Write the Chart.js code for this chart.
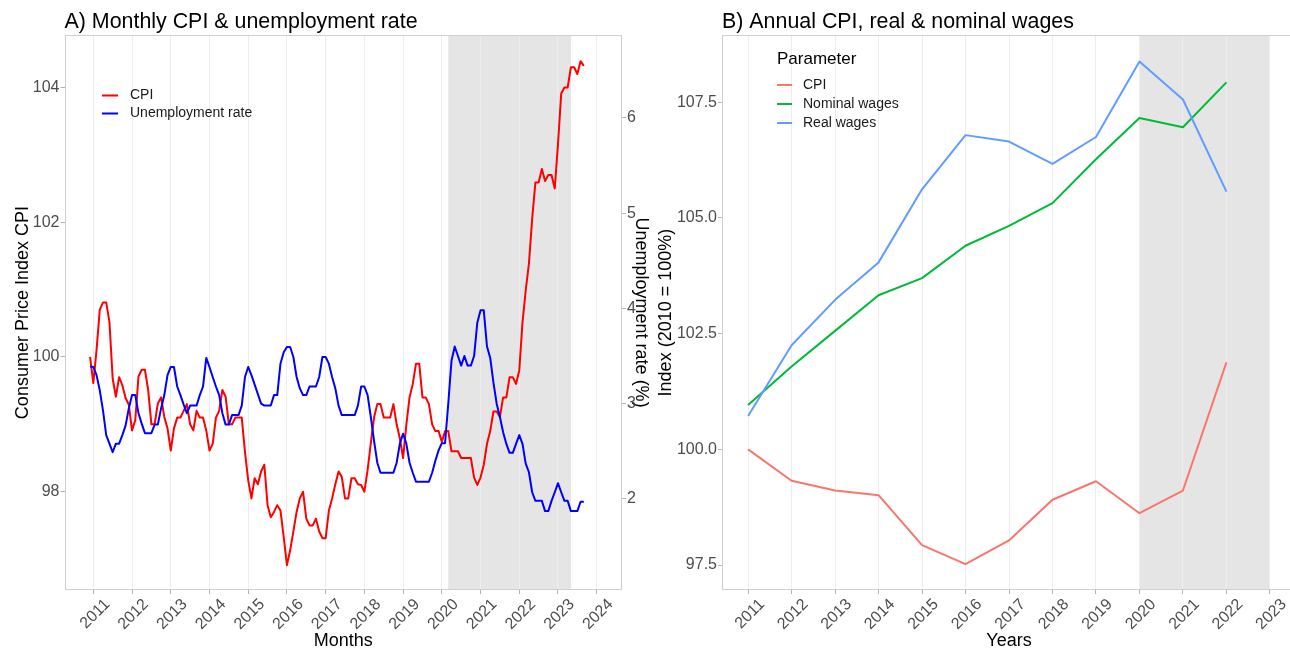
<!DOCTYPE html>
<html>
<head>
<meta charset="utf-8">
<script src="https://cdn.jsdelivr.net/npm/chart.js@4.4.1/dist/chart.umd.min.js"></script>
<style>
html,body{margin:0;padding:0;background:#ffffff;overflow:hidden;width:1290px;height:651px;}
#wrap{position:relative;width:1290px;height:651px;overflow:hidden;background:#ffffff;}
canvas{position:absolute;top:0;}
#chartA{left:0;}
#chartB{left:650px;}
</style>
</head>
<body>
<div id="wrap">
<canvas id="chartA" width="660" height="651"></canvas>
<canvas id="chartB" width="646" height="651"></canvas>
</div>
<script>
// ---------------- DATA ----------------
// Panel A: monthly series, first month = Dec 2010, last = Sep 2023
const monthlyStart = '2010-12';
const cpiMonthly = [
  100.0,
  99.61, 100.1, 100.70, 100.81, 100.81, 100.52, 99.68, 99.41, 99.70, 99.58, 99.39, 99.29,
  98.91, 99.06, 99.71, 99.81, 99.81, 99.51, 99.0, 99.0, 99.31, 99.40, 99.11, 98.94,
  98.61, 98.94, 99.10, 99.10, 99.20, 99.30, 99.0, 98.91, 99.20, 99.10, 99.10, 98.91,
  98.61, 98.71, 99.10, 99.20, 99.51, 99.41, 99.0, 99.0, 99.10, 99.10, 99.10, 98.59,
  98.17, 97.90, 98.20, 98.11, 98.30, 98.40, 97.80, 97.62, 97.70, 97.80, 97.72, 97.33,
  96.91, 97.13, 97.41, 97.70, 97.90, 98.0, 97.60, 97.50, 97.50, 97.60, 97.41, 97.31,
  97.31, 97.72, 97.90, 98.11, 98.30, 98.22, 97.90, 97.90, 98.20, 98.20, 98.11, 98.10,
  98.0, 98.32, 98.72, 99.10, 99.30, 99.30, 99.10, 99.10, 99.10, 99.30, 99.0, 98.79,
  98.50, 98.99, 99.40, 99.60, 99.90, 99.90, 99.40, 99.40, 99.30, 99.0, 98.90, 98.90,
  98.74, 98.90, 98.90, 98.60, 98.60, 98.60, 98.50, 98.50, 98.50, 98.50, 98.21, 98.10,
  98.21, 98.40, 98.71, 98.90, 99.19, 99.19, 99.11, 99.40, 99.40, 99.70, 99.70, 99.60,
  99.80, 100.51, 100.99, 101.39, 102.05, 102.59, 102.59, 102.79, 102.61, 102.70, 102.70, 102.50,
  103.16, 103.91, 104.0, 104.0, 104.3, 104.3, 104.2, 104.39, 104.32
];
const unemploymentMonthly = [
  3.39,
  3.385, 3.30, 3.14, 2.93, 2.67, 2.58, 2.49, 2.58, 2.58, 2.67, 2.77, 2.95,
  3.09, 3.09, 2.90, 2.79, 2.69, 2.69, 2.69, 2.78, 2.78, 2.95, 3.09, 3.30,
  3.385, 3.385, 3.18, 3.09, 2.99, 2.90, 2.98, 2.98, 2.98, 3.09, 3.18, 3.48,
  3.385, 3.28, 3.18, 3.09, 2.90, 2.78, 2.78, 2.88, 2.88, 2.88, 2.98, 3.28,
  3.385, 3.30, 3.20, 3.10, 3.00, 2.98, 2.98, 2.98, 3.09, 3.09, 3.42, 3.54,
  3.595, 3.595, 3.49, 3.28, 3.16, 3.09, 3.09, 3.18, 3.18, 3.18, 3.28, 3.49,
  3.49, 3.42, 3.28, 3.16, 2.98, 2.88, 2.88, 2.88, 2.88, 2.88, 2.98, 3.18,
  3.18, 3.09, 2.86, 2.61, 2.38, 2.275, 2.275, 2.275, 2.275, 2.275, 2.38, 2.58,
  2.685, 2.58, 2.38, 2.275, 2.18, 2.18, 2.18, 2.18, 2.18, 2.275, 2.40, 2.51,
  2.585, 2.585, 3.00, 3.45, 3.60, 3.50, 3.40, 3.50, 3.40, 3.40, 3.50, 3.85,
  3.98, 3.98, 3.60, 3.48, 3.22, 3.00, 2.86, 2.70, 2.577, 2.484, 2.484, 2.577,
  2.67, 2.577, 2.37, 2.28, 2.07, 1.98, 1.98, 1.98, 1.872, 1.872, 1.98, 2.07,
  2.165, 2.07, 1.98, 1.98, 1.872, 1.872, 1.872, 1.97, 1.97
];
const monthlyTickYears = [2011, 2012, 2013, 2014, 2015, 2016, 2017, 2018, 2019, 2020, 2021, 2022, 2023, 2024];
const cpiTicks = [98, 100, 102, 104];
const unemploymentTicks = [2, 3, 4, 5, 6];
const shadeMonthly = ['2020-03', '2023-05'];

// Panel B: annual series
const years = [2011, 2012, 2013, 2014, 2015, 2016, 2017, 2018, 2019, 2020, 2021, 2022];
const cpiAnnual = [100.0, 99.32, 99.11, 99.01, 97.93, 97.52, 98.03, 98.91, 99.31, 98.62, 99.11, 101.88];
const nominalWages = [100.96, 101.79, 102.56, 103.33, 103.70, 104.40, 104.83, 105.32, 106.27, 107.16, 106.96, 107.93];
const realWages = [100.72, 102.25, 103.23, 104.04, 105.62, 106.79, 106.65, 106.17, 106.75, 108.38, 107.56, 105.57];
const annualTickYears = [2011, 2012, 2013, 2014, 2015, 2016, 2017, 2018, 2019, 2020, 2021, 2022, 2023];
const indexTicks = [97.5, 100, 102.5, 105, 107.5];
const shadeAnnual = [2020, 2023];

// ---------------- HELPERS ----------------
const FONT = "'Liberation Sans', Arial, Helvetica, sans-serif";
Chart.defaults.font.family = FONT;
Chart.defaults.color = '#4d4d4d';

function monthToYear(s) {
  const p = s.split('-').map(Number);
  return p[0] + (p[1] - 1) / 12;
}
function monthLabels(start, n) {
  const p = start.split('-').map(Number);
  const out = [];
  for (let i = 0; i < n; i++) {
    const idx = p[1] - 1 + i;
    const y = p[0] + Math.floor(idx / 12);
    const m = (idx % 12) + 1;
    out.push(y + '-' + String(m).padStart(2, '0'));
  }
  return out;
}
const months = monthLabels(monthlyStart, cpiMonthly.length);

const shadePlugin = {
  id: 'shade',
  beforeDraw(chart, args, o) {
    if (!o || !o.range) return;
    const a = chart.chartArea, x = chart.scales.x, ctx = chart.ctx;
    const x0 = x.getPixelForValue(o.range[0]);
    const x1 = x.getPixelForValue(o.range[1]);
    ctx.save();
    ctx.fillStyle = o.color;
    ctx.fillRect(x0, a.top, x1 - x0, a.bottom - a.top);
    ctx.restore();
  }
};
const borderPlugin = {
  id: 'panelBorder',
  beforeDatasetsDraw(chart, args, o) {
    const a = chart.chartArea, ctx = chart.ctx;
    ctx.save();
    ctx.strokeStyle = o.color || '#cccccc';
    ctx.lineWidth = 1;
    const l = Math.round(a.left) + 0.5, t = Math.round(a.top) + 0.5;
    const r = Math.round(a.right) - 0.5, b = Math.round(a.bottom) - 0.5;
    ctx.strokeRect(l, t, r - l, b - t);
    ctx.restore();
  }
};
const legendPlugin = {
  id: 'panelLegend',
  afterDraw(chart, args, o) {
    if (!o || !o.order) return;
    const ctx = chart.ctx;
    ctx.save();
    ctx.textBaseline = 'middle';
    ctx.textAlign = 'left';
    if (o.title) {
      ctx.font = o.titleSize + 'px ' + FONT;
      ctx.fillStyle = '#000000';
      ctx.fillText(o.title, o.x, o.titleY);
    }
    ctx.font = o.size + 'px ' + FONT;
    o.order.forEach((di, k) => {
      const ds = chart.data.datasets[di];
      const y = o.y + k * o.rowGap;
      ctx.strokeStyle = ds.borderColor;
      ctx.lineWidth = ds.borderWidth;
      ctx.beginPath();
      ctx.moveTo(o.x, y);
      ctx.lineTo(o.x + o.keyLen, y);
      ctx.stroke();
      ctx.fillStyle = '#1a1a1a';
      ctx.fillText(ds.label, o.textX, y);
    });
    ctx.restore();
  }
};

const tickFont = { size: 16 };
const axisTitleFont = { size: 18 };
const gridX = { color: '#ededed', lineWidth: 1, tickColor: '#b3b3b3', tickLength: 4, drawOnChartArea: true };
const gridY = { drawOnChartArea: false, tickColor: '#b3b3b3', tickLength: 4 };

function xAxis(minV, maxV, tickVals, titleText) {
  return {
    type: 'linear', min: minV, max: maxV,
    afterBuildTicks: s => { s.ticks = tickVals.map(v => ({ value: v })); },
    afterFit: s => { s.height = 61; },
    ticks: { autoSkip: false, minRotation: 45, maxRotation: 45, font: tickFont, color: '#4d4d4d', padding: 1, labelOffset: 14, callback: v => String(v) },
    grid: gridX,
    border: { display: false },
    title: { display: true, text: titleText, font: axisTitleFont, color: '#000000', padding: { top: 0, bottom: -1 } }
  };
}

// ---------------- CHART A ----------------
new Chart(document.getElementById('chartA'), {
  type: 'line',
  data: {
    datasets: [
      {
        label: 'CPI',
        data: months.map((m, i) => ({ x: monthToYear(m), y: cpiMonthly[i] })),
        borderColor: '#ff0000', backgroundColor: '#ff0000', borderWidth: 2,
        pointRadius: 0, tension: 0, fill: false, yAxisID: 'y', order: 1,
        borderJoinStyle: 'round'
      },
      {
        label: 'Unemployment rate',
        data: months.map((m, i) => ({ x: monthToYear(m), y: unemploymentMonthly[i] })),
        borderColor: '#0000ff', backgroundColor: '#0000ff', borderWidth: 2,
        pointRadius: 0, tension: 0, fill: false, yAxisID: 'y2', order: 0,
        borderJoinStyle: 'round'
      }
    ]
  },
  options: {
    responsive: false, animation: false, devicePixelRatio: 1, events: [],
    layout: { padding: 0 },
    scales: {
      x: xAxis(2010.256, 2024.653, monthlyTickYears, 'Months'),
      y: {
        type: 'linear', position: 'left', min: 96.541, max: 104.776,
        afterBuildTicks: s => { s.ticks = cpiTicks.map(v => ({ value: v })); },
        afterFit: s => { s.width = 64.5; },
        ticks: { font: tickFont, color: '#4d4d4d', padding: 1, callback: v => String(v) },
        grid: gridY, border: { display: false },
        title: { display: true, text: 'Consumer Price Index CPI', font: axisTitleFont, color: '#000000', padding: { top: 12.5, bottom: 0 } }
      },
      y2: {
        type: 'linear', position: 'right', min: 1.044, max: 6.868,
        afterBuildTicks: s => { s.ticks = unemploymentTicks.map(v => ({ value: v })); },
        afterFit: s => { s.width = 38; },
        ticks: { font: tickFont, color: '#4d4d4d', padding: 1, callback: v => String(v) },
        grid: gridY, border: { display: false },
        title: { display: true, text: 'Unemployment rate (%)', font: axisTitleFont, color: '#000000', padding: { top: 8.2, bottom: 0 } }
      }
    },
    plugins: {
      legend: { display: false },
      tooltip: { enabled: false },
      title: { display: true, text: 'A) Monthly CPI & unemployment rate', align: 'start', fullSize: false, font: { size: 21.4, weight: 'normal' }, color: '#000000', padding: { top: 9.5, bottom: 0 } },
      shade: { range: shadeMonthly.map(monthToYear), color: '#e5e5e5' },
      panelBorder: { color: '#cfcfcf' },
      panelLegend: { order: [0, 1], x: 102, keyLen: 16, textX: 130, y: 95.5, rowGap: 18, size: 14 }
    }
  },
  plugins: [shadePlugin, borderPlugin, legendPlugin]
});

// ---------------- CHART B ----------------
new Chart(document.getElementById('chartB'), {
  type: 'line',
  data: {
    datasets: [
      {
        label: 'CPI',
        data: years.map((y, i) => ({ x: y, y: cpiAnnual[i] })),
        borderColor: '#F8766D', backgroundColor: '#F8766D', borderWidth: 2,
        pointRadius: 0, tension: 0, fill: false, order: 2, borderJoinStyle: 'round'
      },
      {
        label: 'Nominal wages',
        data: years.map((y, i) => ({ x: y, y: nominalWages[i] })),
        borderColor: '#00BA38', backgroundColor: '#00BA38', borderWidth: 2,
        pointRadius: 0, tension: 0, fill: false, order: 1, borderJoinStyle: 'round'
      },
      {
        label: 'Real wages',
        data: years.map((y, i) => ({ x: y, y: realWages[i] })),
        borderColor: '#619CFF', backgroundColor: '#619CFF', borderWidth: 2,
        pointRadius: 0, tension: 0, fill: false, order: 0, borderJoinStyle: 'round'
      }
    ]
  },
  options: {
    responsive: false, animation: false, devicePixelRatio: 1, events: [],
    layout: { padding: 0 },
    scales: {
      x: xAxis(2010.4, 2023.6, annualTickYears, 'Years'),
      y: {
        type: 'linear', position: 'left', min: 96.96, max: 108.95,
        afterBuildTicks: s => { s.ticks = indexTicks.map(v => ({ value: v })); },
        afterFit: s => { s.width = 72; },
        ticks: { font: tickFont, color: '#4d4d4d', padding: 1, callback: v => Number(v).toFixed(1) },
        grid: gridY, border: { display: false },
        title: { display: true, text: 'Index (2010 = 100%)', font: axisTitleFont, color: '#000000', padding: { top: 5.2, bottom: 0 } }
      }
    },
    plugins: {
      legend: { display: false },
      tooltip: { enabled: false },
      title: { display: true, text: 'B) Annual CPI, real & nominal wages', align: 'start', fullSize: false, font: { size: 21.4, weight: 'normal' }, color: '#000000', padding: { top: 9.5, bottom: 0 } },
      shade: { range: shadeAnnual, color: '#e5e5e5' },
      panelBorder: { color: '#cfcfcf' },
      panelLegend: { order: [0, 1, 2], title: 'Parameter', titleSize: 17, titleY: 59, x: 127, keyLen: 15, textX: 153, y: 85, rowGap: 19, size: 14 }
    }
  },
  plugins: [shadePlugin, borderPlugin, legendPlugin]
});
</script>
</body>
</html>
